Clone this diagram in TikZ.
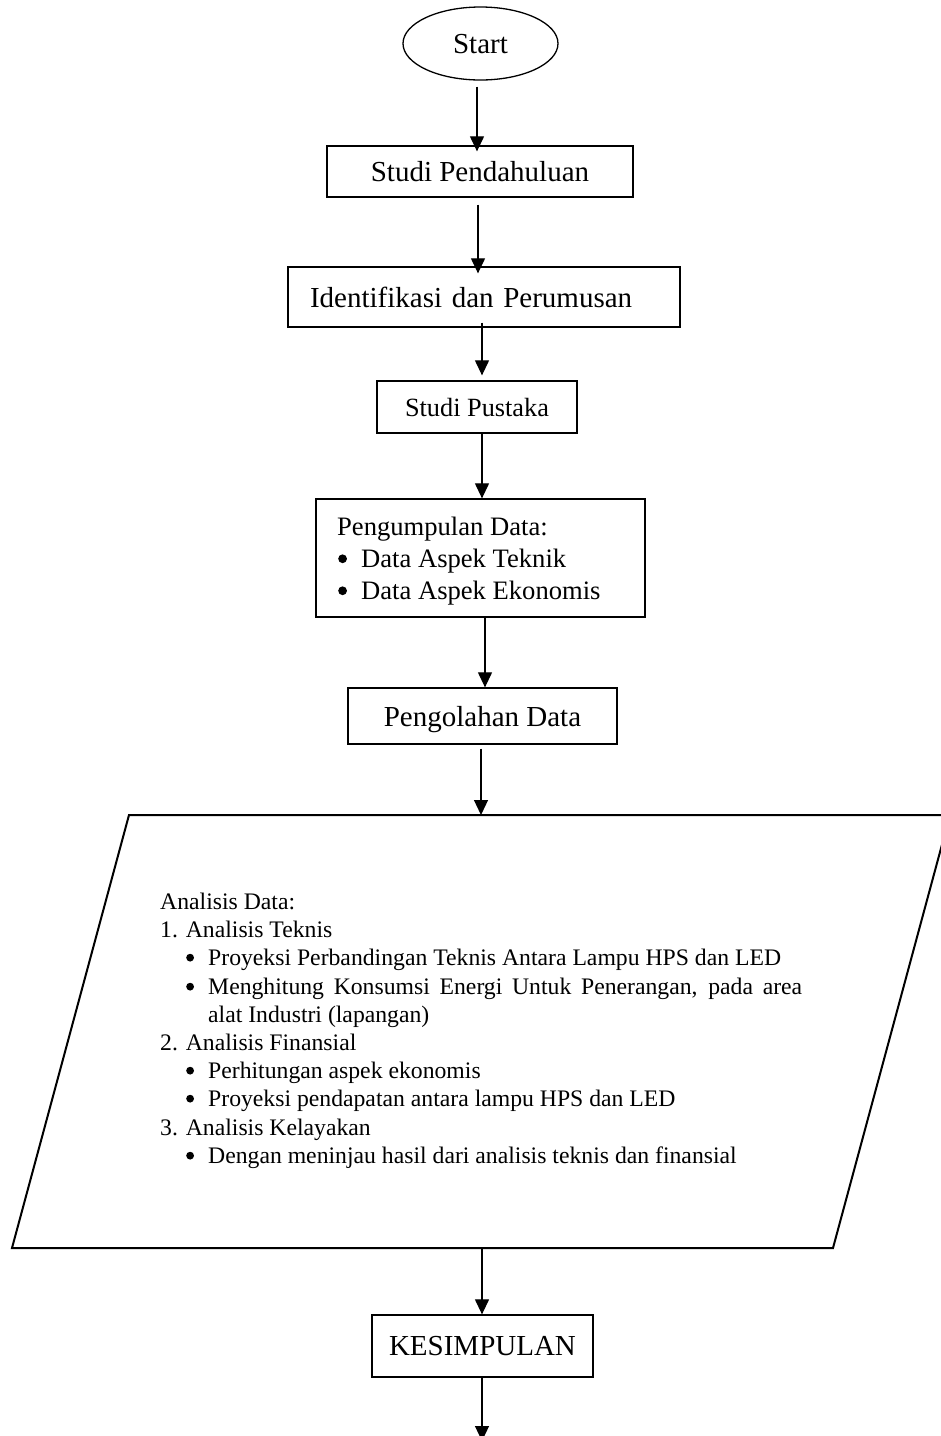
\documentclass[tikz,border=0pt]{standalone}
\usepackage{fontspec}
\setmainfont{Liberation Serif}
\usetikzlibrary{arrows.meta,shapes.geometric}
\newcommand{\mybul}{\tikz[baseline={(0pt,-0.31em)}]\fill (0pt,0pt) circle (0.165em);}
\tikzset{
 box/.style={draw, line width=1.3pt, inner sep=0pt, text depth=0pt, font=\fontsize{29}{34}\selectfont},
 arr/.style={line width=1.2pt, -{Triangle[width=14pt,length=15pt]}},
 ptext/.style={anchor=base west, inner sep=0pt, font=\fontsize{23.7}{28}\selectfont},
 btext/.style={anchor=base west, inner sep=0pt, font=\fontsize{26.6}{32}\selectfont},
 para/.style={line width=2pt, line join=miter},
}
\begin{document}
\begin{tikzpicture}[x=1pt,y=-1pt]
\useasboundingbox (0,0) rectangle (941,1436);
% nodes
\node[box, ellipse, minimum width=155pt, minimum height=73pt] (start) at (480.5,43.5) {Start};
\node[box, minimum width=306pt, minimum height=51pt] (sp) at (480,171.5) {Studi Pendahuluan};
\node[box, minimum width=392pt, minimum height=60pt, text width=348pt, align=left, inner xsep=22pt] (ip) at (484,297) {Identifikasi dan Perumusan};
\node[box, minimum width=200pt, minimum height=52pt, font=\fontsize{26.3}{31}\selectfont] (pus) at (477,407) {Studi Pustaka};
\node[box, minimum width=329pt, minimum height=118pt] (pd) at (480.5,558) {};
\node[btext] (pd1) at (337,535) {Pengumpulan Data:};
\node[btext] (pd2) at (338,567) {\makebox[23pt][l]{\mybul}Data Aspek Teknik};
\node[btext] (pd3) at (338,599) {\makebox[23pt][l]{\mybul}Data Aspek Ekonomis};
\node[box, minimum width=269pt, minimum height=56pt] (po) at (482.5,716) {Pengolahan Data};
% parallelogram
\coordinate (pa1) at (129,815);
\coordinate (pa2) at (950,815);
\coordinate (pa3) at (833,1248);
\coordinate (pa4) at (12,1248);
\draw[para] (pa1) -- (pa2) -- (pa3) -- (pa4) -- cycle;
\coordinate (pat) at (481,815);
\coordinate (pab) at (482,1248);
\node[ptext] (t1) at (160,909) {Analisis Data:};
\node[ptext] (t2) at (160,937) {1. Analisis Teknis};
\node[ptext] (t3) at (186,965) {\makebox[22pt][l]{\mybul}Proyeksi Perbandingan Teknis Antara Lampu HPS dan LED};
\node[ptext] (t4) at (186,994) {\makebox[22pt][l]{\mybul}\makebox[594pt][s]{Menghitung Konsumsi Energi Untuk Penerangan, pada area}};
\node[ptext] (t5) at (208,1022) {alat Industri (lapangan)};
\node[ptext] (t6) at (160,1050) {2. Analisis Finansial};
\node[ptext] (t7) at (186,1078) {\makebox[22pt][l]{\mybul}Perhitungan aspek ekonomis};
\node[ptext] (t8) at (186,1106) {\makebox[22pt][l]{\mybul}Proyeksi pendapatan antara lampu HPS dan LED};
\node[ptext] (t9) at (160,1135) {3. Analisis Kelayakan};
\node[ptext] (t10) at (186,1163) {\makebox[22pt][l]{\mybul}Dengan meninjau hasil dari analisis teknis dan finansial};
\node[box, minimum width=221pt, minimum height=62pt] (kes) at (482.5,1346) {KESIMPULAN};
\coordinate (end) at (482,1441);
% connectors
\draw[arr] ([xshift=-3.5pt,yshift=-6pt]start.south) -- ([xshift=-3.5pt,yshift=-6pt]start.south |- sp.north);
\draw[arr] ([xshift=-2pt,yshift=-7pt]sp.south) -- ([xshift=-2pt,yshift=-7pt]sp.south |- ip.north);
\draw[arr] ([xshift=-2pt,yshift=5pt]ip.south) -- ([xshift=-2pt,yshift=5pt]ip.south |- pus.north);
\draw[arr] ([xshift=5pt]pus.south) -- ([xshift=5pt]pus.south |- pd.north);
\draw[arr] ([xshift=4.5pt]pd.south) -- ([xshift=4.5pt]pd.south |- po.north);
\draw[arr] ([yshift=-4pt]po.south -| pat) -- (pat);
\draw[arr] (pab) -- (pab |- kes.north);
\draw[arr] (kes.south -| end) -- (end);
\end{tikzpicture}
\end{document}
